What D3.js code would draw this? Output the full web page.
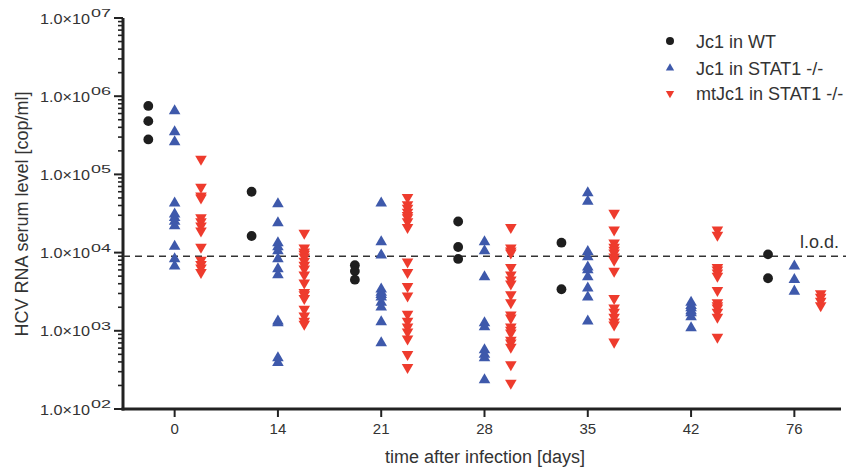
<!DOCTYPE html>
<html>
<head>
<meta charset="utf-8">
<script src="https://cdn.jsdelivr.net/npm/d3@7"></script>
<style>
  body { margin: 0; background: #fff; }
  svg { display: block; font-family: "Liberation Sans", Arial, Helvetica, sans-serif; }
</style>
</head>
<body>
<svg id="chart" width="846" height="470"></svg>
<script>
// Time points (days after infection)
const days = ["0", "14", "21", "28", "35", "42", "76"];

// HCV RNA serum levels (cop/ml) per time point
const jc1WT = [
  [7.5e5, 4.8e5, 2.8e5],
  [6.0e4, 1.63e4],
  [6.9e3, 5.8e3, 4.5e3],
  [2.5e4, 1.18e4, 8.3e3],
  [1.34e4, 3.4e3],
  [],
  [9.5e3, 4.7e3]
];
const jc1STAT1 = [
  [6.5e5, 3.5e5, 2.6e5, 4.3e4, 3.1e4, 2.8e4, 2.5e4, 2.2e4, 1.2e4, 8.3e3, 6.7e3],
  [4.2e4, 2.4e4, 1.33e4, 1.18e4, 1.05e4, 8.3e3, 6.2e3, 5.2e3, 1.33e3, 1.26e3, 4.5e2, 3.9e2],
  [4.3e4, 1.37e4, 9.3e3, 3.4e3, 3.1e3, 2.9e3, 2.7e3, 2.3e3, 2.0e3, 1.3e3, 7.0e2],
  [1.37e4, 1.05e4, 4.9e3, 1.26e3, 1.12e3, 5.7e2, 5.0e2, 4.5e2, 2.35e2],
  [5.8e4, 4.5e4, 1.03e4, 8.8e3, 6.5e3, 6.0e3, 4.9e3, 3.5e3, 2.7e3, 1.33e3],
  [2.3e3, 2.1e3, 1.96e3, 1.8e3, 1.69e3, 1.5e3, 1.09e3],
  [6.7e3, 4.5e3, 3.2e3]
];
const mtJc1STAT1 = [
  [1.57e5, 6.9e4, 5.3e4, 5.0e4, 2.8e4, 2.5e4, 2.2e4, 1.9e4, 1.18e4, 8.0e3, 7.1e3, 6.4e3, 5.6e3],
  [1.78e4, 1.15e4, 1.02e4, 9.6e3, 8.8e3, 7.8e3, 6.9e3, 6.2e3, 5.2e3, 4.1e3, 3.1e3, 2.9e3, 2.6e3, 1.9e3, 1.55e3, 1.33e3, 1.22e3],
  [5.1e4, 4.1e4, 3.7e4, 3.3e4, 3.0e4, 2.8e4, 2.5e4, 2.1e4, 7.6e3, 5.6e3, 3.7e3, 2.8e3, 1.64e3, 1.33e3, 1.12e3, 9.7e2, 7.9e2, 5.0e2, 3.4e2],
  [2.1e4, 1.15e4, 1.05e4, 9.9e3, 6.5e3, 5.2e3, 4.5e3, 4.0e3, 2.9e3, 2.3e3, 1.6e3, 1.46e3, 1.12e3, 1.02e3, 9.4e2, 7.6e2, 7.0e2, 6.2e2, 3.7e2, 2.15e2],
  [3.2e4, 1.95e4, 1.33e4, 1.18e4, 1.08e4, 9.9e3, 8.8e3, 8.0e3, 5.8e3, 2.6e3, 1.96e3, 1.74e3, 1.5e3, 1.3e3, 1.19e3, 7.2e2],
  [1.95e4, 1.68e4, 6.5e3, 6.0e3, 5.5e3, 5.0e3, 3.3e3, 2.3e3, 2.1e3, 1.96e3, 1.74e3, 1.5e3, 8.3e2],
  [3.0e3, 2.7e3, 2.4e3, 2.1e3]
];

// Limit of detection
const lod = 9.0e3;

// Y axis decades
const yTickExps = ["02", "03", "04", "05", "06", "07"];
const seriesNames = ["Jc1 in WT", "Jc1 in STAT1 -/-", "mtJc1 in STAT1 -/-"];

const colors = { wt: "#1e1e1e", blue: "#3e59ab", red: "#ee3b2d", axis: "#222", text: "#333" };

const svg = d3.select("#chart");
const plot = { left: 123, right: 846, top: 18, bottom: 409 };

const x = d3.scalePoint().domain(days).range([plot.left, plot.right]).padding(0.5);
const y = d3.scaleLog().domain([1e2, 1e7]).range([plot.bottom, plot.top]);
const off = x.step() * 0.255;

// Y axis: major and minor ticks
const yTicksMinor = [];
for (let e = 2; e < 7; e++) for (let m = 2; m <= 9; m++) yTicksMinor.push(m * Math.pow(10, e));

const yAxisG = svg.append("g").attr("transform", `translate(${plot.left},0)`);
yAxisG.selectAll("line.minor").data(yTicksMinor).join("line")
  .attr("class", "minor")
  .attr("x1", -5).attr("x2", 0)
  .attr("y1", d => y(d)).attr("y2", d => y(d))
  .attr("stroke", colors.axis).attr("stroke-width", 1.6);
yAxisG.selectAll("line.major").data(yTickExps).join("line")
  .attr("class", "major")
  .attr("x1", -9).attr("x2", 0)
  .attr("y1", d => y(Math.pow(10, +d))).attr("y2", d => y(Math.pow(10, +d)))
  .attr("stroke", colors.axis).attr("stroke-width", 2);
yAxisG.append("line")
  .attr("x1", 0).attr("x2", 0).attr("y1", plot.top).attr("y2", plot.bottom + 1.5)
  .attr("stroke", colors.axis).attr("stroke-width", 3);

// Tick labels "1.0×10" with a superscript exponent
const yLab = yAxisG.selectAll("g.ylab").data(yTickExps).join("g")
  .attr("class", "ylab")
  .attr("transform", d => `translate(0,${y(Math.pow(10, +d))})`);
yLab.append("text")
  .attr("x", -83).attr("y", 5.5)
  .attr("font-size", 15).attr("fill", colors.text)
  .attr("textLength", 50).attr("lengthAdjust", "spacingAndGlyphs")
  .text("1.0×10");
yLab.append("text")
  .attr("x", -32).attr("y", -1)
  .attr("font-size", 11).attr("fill", colors.text)
  .attr("textLength", 20).attr("lengthAdjust", "spacingAndGlyphs")
  .text(d => d);

// X axis
const xAxisG = svg.append("g").attr("transform", `translate(0,${plot.bottom})`);
xAxisG.append("line")
  .attr("x1", plot.left - 1.5).attr("x2", 841).attr("y1", 0).attr("y2", 0)
  .attr("stroke", colors.axis).attr("stroke-width", 3);
xAxisG.selectAll("line.tick").data(days).join("line")
  .attr("class", "tick")
  .attr("x1", d => x(d)).attr("x2", d => x(d)).attr("y1", 0).attr("y2", 8)
  .attr("stroke", colors.axis).attr("stroke-width", 2);
xAxisG.selectAll("text").data(days).join("text")
  .attr("x", d => x(d)).attr("y", 25)
  .attr("text-anchor", "middle")
  .attr("font-size", 15).attr("fill", colors.text)
  .text(d => d);

// Axis titles
svg.append("text")
  .attr("transform", `translate(28,214) rotate(-90)`)
  .attr("text-anchor", "middle").attr("font-size", 18).attr("fill", colors.text)
  .text("HCV RNA serum level [cop/ml]");
svg.append("text")
  .attr("x", 485).attr("y", 463)
  .attr("text-anchor", "middle").attr("font-size", 18).attr("fill", colors.text)
  .text("time after infection [days]");

// Limit of detection line
svg.append("line")
  .attr("x1", plot.left).attr("x2", plot.right).attr("y1", y(lod)).attr("y2", y(lod))
  .attr("stroke", "#333").attr("stroke-width", 1.6).attr("stroke-dasharray", "7,5");
svg.append("text")
  .attr("x", 800).attr("y", y(lod) - 8)
  .attr("font-size", 18).attr("fill", colors.text).text("l.o.d.");

// Flatten series into points
function flatten(series) {
  const pts = [];
  series.forEach((vals, i) => vals.forEach(v => pts.push({ day: days[i], v })));
  return pts;
}

const tri = d3.symbol().type(d3.symbolTriangle).size(58);

svg.append("g").selectAll("circle").data(flatten(jc1WT)).join("circle")
  .attr("cx", d => x(d.day) - off).attr("cy", d => y(d.v)).attr("r", 4.9)
  .attr("fill", colors.wt);

svg.append("g").selectAll("path").data(flatten(jc1STAT1)).join("path")
  .attr("d", tri)
  .attr("transform", d => `translate(${x(d.day)},${y(d.v)})`)
  .attr("fill", colors.blue);

svg.append("g").selectAll("path").data(flatten(mtJc1STAT1)).join("path")
  .attr("d", tri)
  .attr("transform", d => `translate(${x(d.day) + off},${y(d.v)}) rotate(180)`)
  .attr("fill", colors.red);

// Legend
const legend = svg.append("g");
const ly = [41, 68, 93.5];
const legendTri = d3.symbol().type(d3.symbolTriangle).size(30);
legend.append("circle").attr("cx", 670).attr("cy", ly[0]).attr("r", 4).attr("fill", colors.wt);
legend.append("path").attr("d", legendTri)
  .attr("transform", `translate(670,${ly[1]})`).attr("fill", colors.blue);
legend.append("path").attr("d", legendTri)
  .attr("transform", `translate(670,${ly[2]}) rotate(180)`).attr("fill", colors.red);
legend.selectAll("text").data(seriesNames).join("text")
  .attr("x", 696).attr("y", (d, i) => ly[i] + 6.5)
  .attr("font-size", 18).attr("fill", colors.text)
  .text(d => d);
</script>
</body>
</html>
